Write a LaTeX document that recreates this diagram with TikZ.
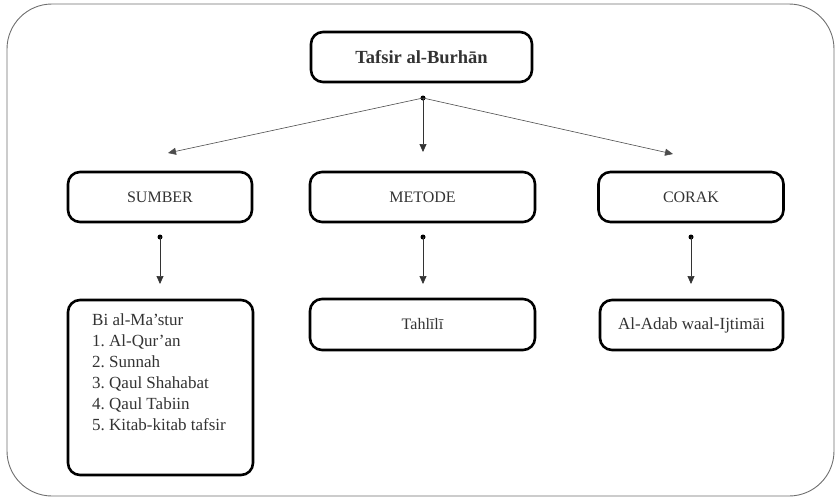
\documentclass[tikz,border=0pt]{standalone}
\usepackage{fontspec}
\setmainfont{Liberation Serif}
\usetikzlibrary{arrows.meta}
\definecolor{txt}{HTML}{333333}
\definecolor{frame}{HTML}{6E6E6E}
\frenchspacing
\begin{document}
\begin{tikzpicture}[x=1pt,y=-1pt,
  box/.style={draw=black, line width=2.6pt, rounded corners=12pt, fill=white, text=txt, font=\fontsize{16}{21}\selectfont, inner sep=0pt},
  dotm/.style={circle, fill=black, inner sep=0pt, minimum size=5pt},
  conn/.style={draw=black!80, line width=0.7pt, -{Triangle[length=8pt,width=7pt]}},
  fan/.style={draw=black!70, line width=0.6pt, -{Triangle[length=8pt,width=7pt]}}]
\useasboundingbox (0,0) rectangle (836,501);
\draw[frame, line width=0.9pt, rounded corners=45pt] (7,4) rectangle (834,496);
% title
\node[box, minimum width=221pt, minimum height=50pt, font=\fontsize{18.5}{22}\selectfont\bfseries] (title) at (421.5,57) {Tafsir al-Burhān};
\node[dotm] (d0) at (423,98) {};
% level 2
\node[box, minimum width=184pt, minimum height=50pt] (sumber) at (160,197) {SUMBER};
\node[box, minimum width=225pt, minimum height=50pt] (metode) at (422.5,197) {METODE};
\node[box, minimum width=185pt, minimum height=50pt] (corak) at (691,197) {CORAK};
% fan arrows
\coordinate (t1) at (168,153);
\coordinate (t2) at (423,152);
\coordinate (t3) at (673,154);
\draw[fan] (d0.center) -- (t1);
\draw[conn] (d0.center) -- (t2);
\draw[fan] (d0.center) -- (t3);
% dots
\node[dotm] (d1) at (160,237) {};
\node[dotm] (d2) at (423,237) {};
\node[dotm] (d3) at (691,237) {};
\coordinate (e1) at (160,284);
\coordinate (e2) at (423,284);
\coordinate (e3) at (691,284);
\draw[conn] (d1.center) -- (e1);
\draw[conn] (d2.center) -- (e2);
\draw[conn] (d3.center) -- (e3);
% level 3
\node[box, minimum width=185pt, minimum height=175pt] (bi) at (160.5,387.5) {};
\node[text=txt, font=\fontsize{17}{21}\selectfont, align=left, anchor=north west, inner sep=0pt] (bitext) at (92,313) {Bi al-Ma’stur\\1. Al-Qur’an\\2. Sunnah\\3. Qaul Shahabat\\4. Qaul Tabiin\\5. Kitab-kitab tafsir};
\node[box, minimum width=225pt, minimum height=51pt] (tahlili) at (422.5,324.5) {Tahlīlī};
\node[box, minimum width=183pt, minimum height=50pt, font=\fontsize{17}{21}\selectfont] (adab) at (691.5,325) {Al-Adab waal-Ijtimāi};
\end{tikzpicture}
\end{document}
